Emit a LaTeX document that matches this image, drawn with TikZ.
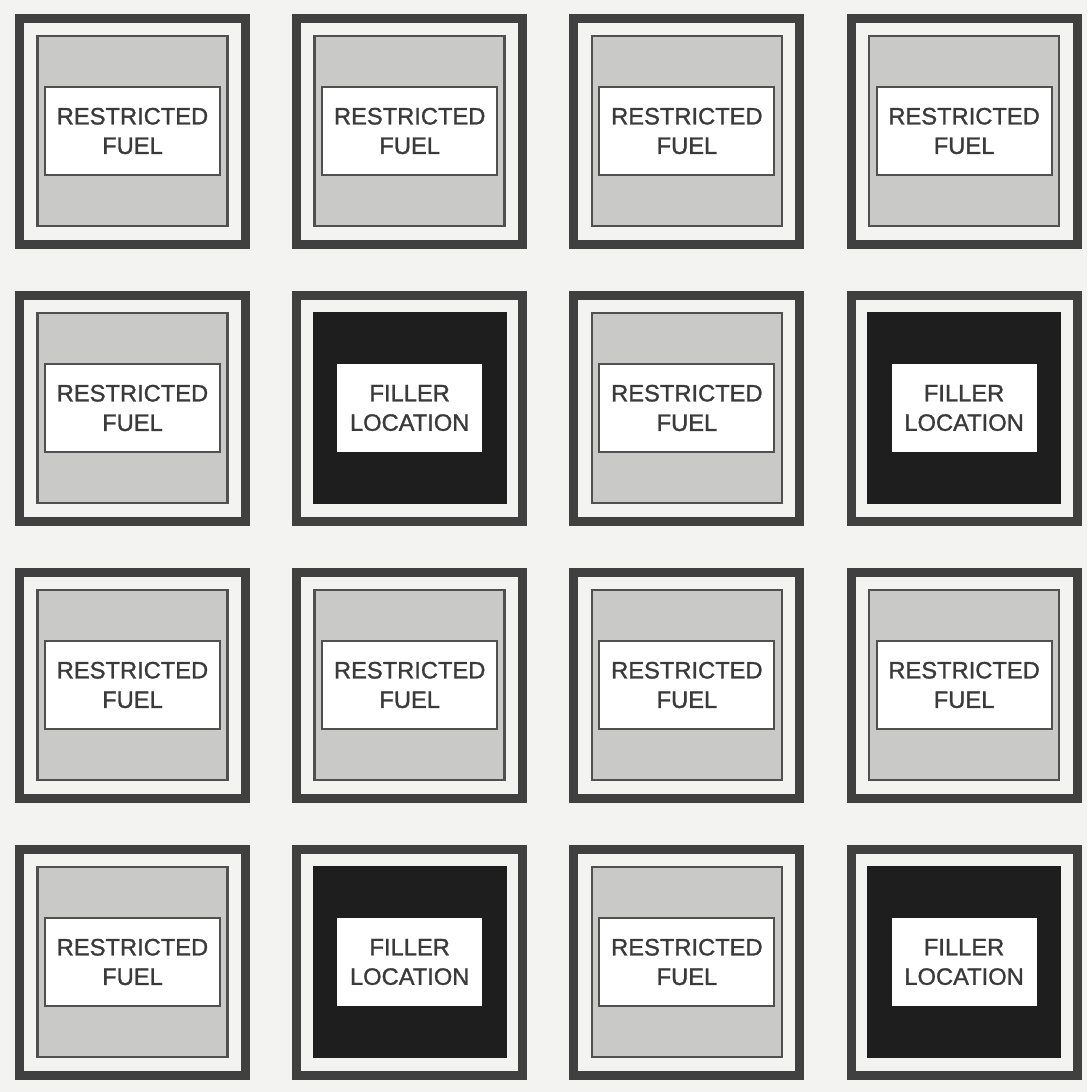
\documentclass[tikz,border=0pt]{standalone}
\usepackage{fontspec}
\setmainfont{Liberation Sans}
\newfontfamily\labelfont[FakeBold=1.2]{Liberation Sans}
\definecolor{bg}{HTML}{F3F3F1}
\definecolor{frame}{HTML}{404040}
\definecolor{fuelgray}{HTML}{C9C9C7}
\definecolor{fueledge}{HTML}{505050}
\definecolor{fillerblack}{HTML}{1E1E1E}
\definecolor{txt}{HTML}{3A3A3A}
\tikzset{
  outerbox/.style={draw=frame, line width=9pt, minimum size=226pt, inner sep=0pt, fill=bg},
  fuelbox/.style={draw=fueledge, line width=2.5pt, fill=fuelgray, minimum size=190pt, inner sep=0pt},
  fillerbox/.style={draw=fillerblack, line width=1pt, fill=fillerblack, minimum width=193pt, minimum height=191pt, inner sep=0pt},
  fuellabel/.style={draw=fueledge, line width=2pt, fill=white, minimum width=175pt, minimum height=88pt, inner sep=0pt,
     align=center, text=txt, font=\labelfont\fontsize{23.7}{29.5}\selectfont},
  fillerlabel/.style={draw=white, line width=0.5pt, fill=white, minimum width=144pt, minimum height=87pt, inner sep=0pt,
     align=center, text=txt, font=\labelfont\fontsize{23.7}{29.5}\selectfont},
}
\begin{document}
\begin{tikzpicture}[x=1pt,y=-1pt]
\fill[bg] (0,0) rectangle (1087,1092);
\useasboundingbox (0,0) rectangle (1087,1092);
\foreach \i in {0,1,2,3}{
  \foreach \j in {0,1,2,3}{
    \pgfmathsetmacro{\cx}{132.5+277.2*\i}
    \pgfmathsetmacro{\cy}{131+277*\j}
    \node[outerbox] (o-\i-\j) at (\cx,\cy) {};
    \pgfmathtruncatemacro{\isfiller}{(mod(\i,2)==1 && mod(\j,2)==1) ? 1 : 0}
    \ifnum\isfiller=1
      \node[fillerbox] (b-\i-\j) at (o-\i-\j.center) {};
      \node[fillerlabel] (l-\i-\j) at (o-\i-\j.center) {FILLER\\LOCATION};
    \else
      \node[fuelbox] (b-\i-\j) at (o-\i-\j.center) {};
      \node[fuellabel] (l-\i-\j) at (o-\i-\j.center) {RESTRICTED\\FUEL};
    \fi
  }
}
\end{tikzpicture}
\end{document}
